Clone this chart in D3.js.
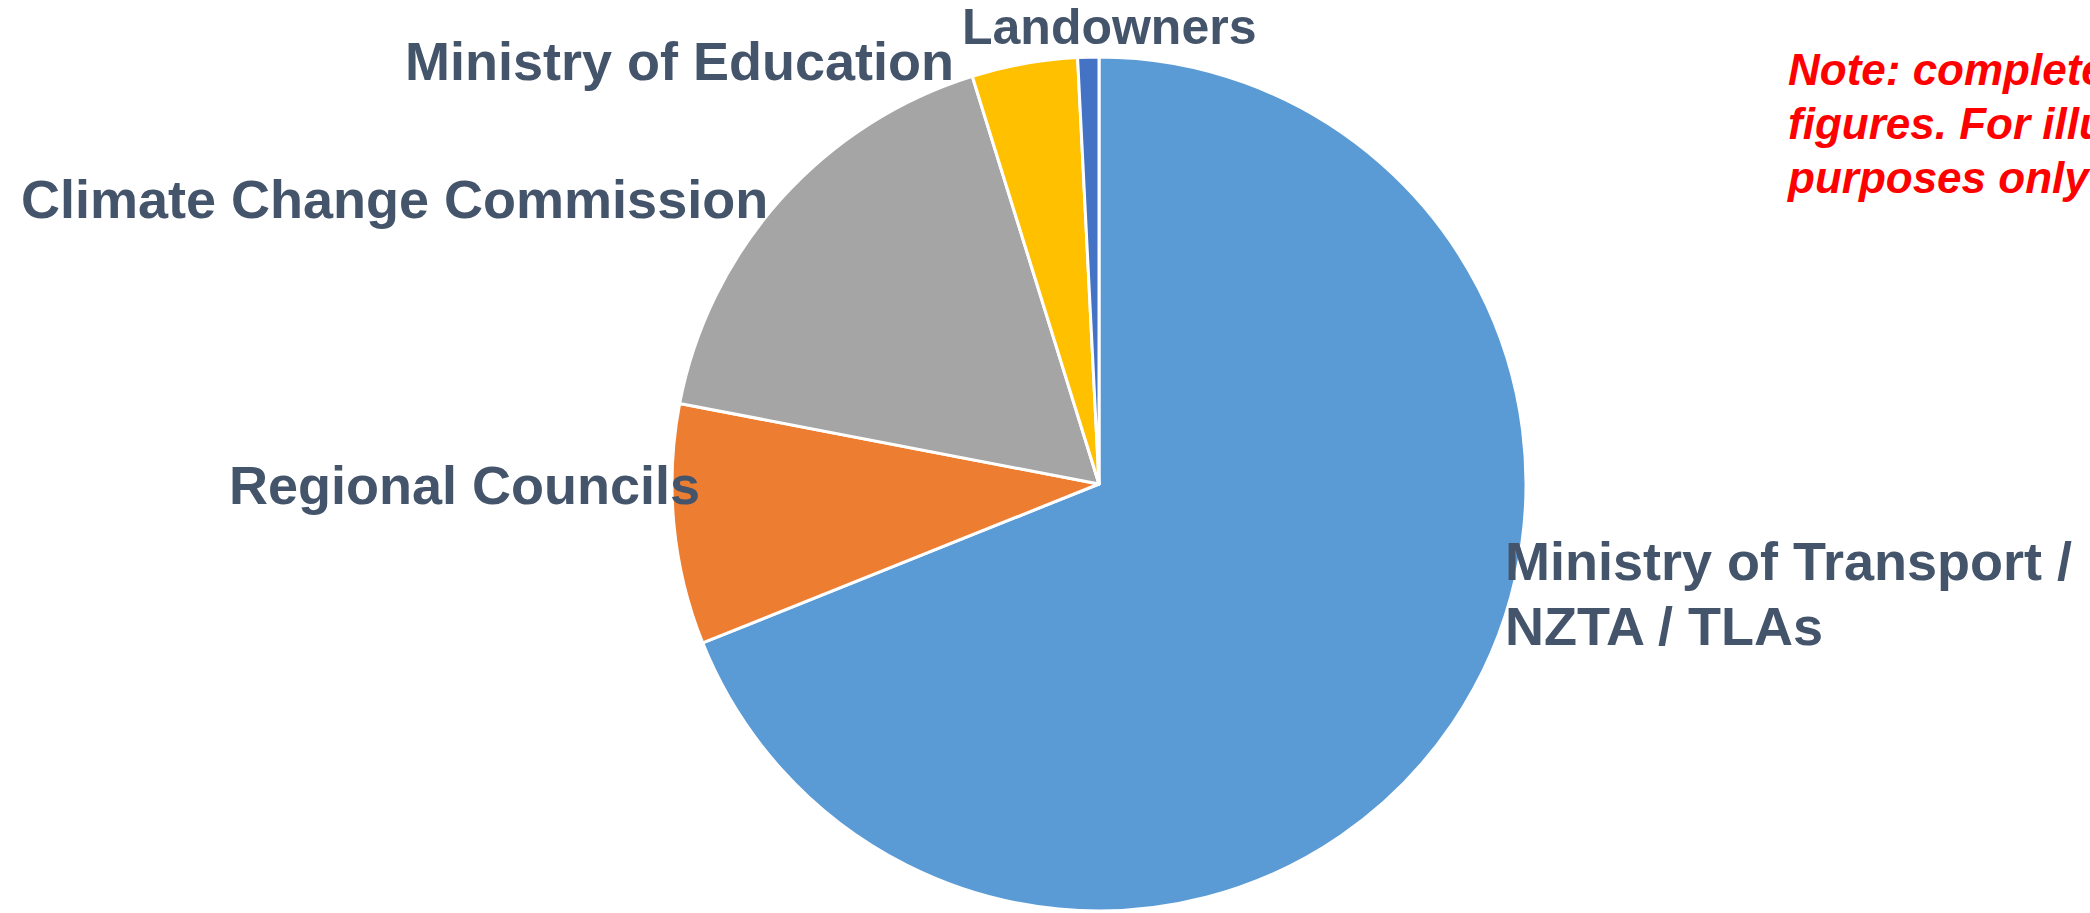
<!DOCTYPE html>
<html>
<head>
<meta charset="utf-8">
<script src="https://cdn.jsdelivr.net/npm/d3@7/dist/d3.min.js"></script>
<style>
  html, body { margin: 0; padding: 0; background: #fff; overflow: hidden; }
  svg { display: block; }
  text { font-family: "Liberation Sans", Arial, Helvetica, sans-serif; font-weight: bold; }
</style>
</head>
<body>
<svg id="chart" width="2090" height="913"></svg>
<script>
// ---- data ----
const categories = ["Ministry of Transport / NZTA / TLAs", "Regional Councils", "Climate Change Commission", "Ministry of Education", "Landowners"];
const values = [69, 9.1, 17.2, 4.0, 0.8];
const colors = ["#5B9BD5", "#ED7D31", "#A5A5A5", "#FFC000", "#4472C4"];
const labelLines = [["Ministry of Transport /", "NZTA / TLAs"], ["Regional Councils"], ["Climate Change Commission"], ["Ministry of Education"], ["Landowners"]];
const noteLines = ["Note: completely made up", "figures. For illustrative", "purposes only"];

// ---- layout ----
const W = 2090, H = 913;
const cx = 1099, cy = 484, R = 427;
// label anchors (start of text, baseline of first line)
const labelPos = [
  {x: 1505, y: 580, size: 54},
  {x: 229,  y: 504, size: 54},
  {x: 21,   y: 218, size: 54},
  {x: 405,  y: 80,  size: 54},
  {x: 962,  y: 44,  size: 50}
];

const svg = d3.select("#chart");
svg.append("rect").attr("width", W).attr("height", H).attr("fill", "#fff");

const pie = d3.pie().sort(null).value(d => d.v);
const arcs = pie(categories.map((c, i) => ({c, v: values[i], i})));
const arc = d3.arc().innerRadius(0).outerRadius(R);
const color = d3.scaleOrdinal().domain(categories).range(colors);

const g = svg.append("g").attr("transform", `translate(${cx},${cy})`);
g.selectAll("path.slice")
  .data(arcs)
  .join("path")
  .attr("class", "slice")
  .attr("d", arc)
  .attr("fill", d => color(d.data.c))
  .attr("stroke", "#fff")
  .attr("stroke-width", 3)
  .attr("stroke-linejoin", "round");

// labels (drawn after the pie so they overlap it as in the reference)
const lg = svg.append("g");
arcs.forEach((d, i) => {
  const p = labelPos[i];
  const t = lg.append("text")
    .attr("x", p.x).attr("y", p.y)
    .attr("font-size", p.size)
    .attr("fill", "#44546A");
  labelLines[i].forEach((line, j) => {
    t.append("tspan").attr("x", p.x).attr("dy", j === 0 ? 0 : 65).text(line);
  });
});

// note (runs past the right edge, as in the reference)
const note = svg.append("text")
  .attr("x", 1788).attr("y", 85)
  .attr("font-size", 44)
  .attr("font-style", "italic")
  .attr("fill", "#FF0000");
noteLines.forEach((line, j) => {
  note.append("tspan").attr("x", 1788).attr("dy", j === 0 ? 0 : 54).text(line);
});
</script>
</body>
</html>
